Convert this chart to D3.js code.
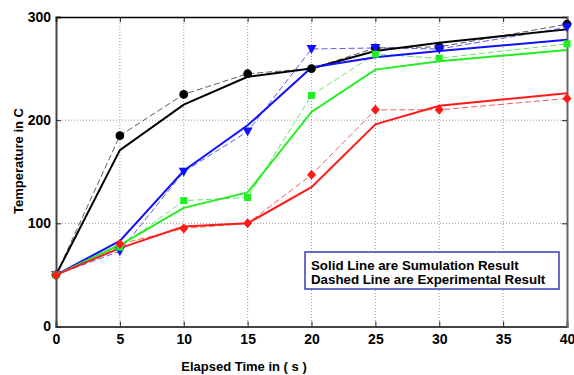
<!DOCTYPE html>
<html><head><meta charset="utf-8">
<script src="https://cdn.jsdelivr.net/npm/d3@7"></script>
<style>body{margin:0;background:#fff}svg{display:block}</style>
</head><body>
<svg id="c" width="574" height="375"></svg>
<script>
const time = [0,5,10,15,20,25,30,40];
const simBlack = [50,171,215,242,250,267,275,288];
const expBlack = [50,185,225,245,250,270,271,293];
const simBlue  = [50,83,151,195,251,261,267,278];
const expBlue  = [50,73,150,189,269,270,269,290];
const simGreen = [50,79,115,130,208,249,257,268];
const expGreen = [50,77,122,125,224,264,260,274];
const simRed   = [50,76,97,100,135,196,214,226];
const expRed   = [50,80,95,100,147,210,210,221];
const xTicks = [0,5,10,15,20,25,30,35,40];
const yTicks = [0,100,200,300];
const legendLines = ["Solid Line are Sumulation Result","Dashed Line are Experimental Result"];

const series = [
  {sim: simBlack, exp: expBlack, color:"#000000", dcolor:"#333333", marker:"circle"},
  {sim: simBlue,  exp: expBlue,  color:"#1010ff", dcolor:"#3030ee", marker:"tri"},
  {sim: simGreen, exp: expGreen, color:"#22ee22", dcolor:"#44dd44", marker:"square"},
  {sim: simRed,   exp: expRed,   color:"#ff1a1a", dcolor:"#ee3333", marker:"diamond"}
];

const svg = d3.select("#c");
const L=56, R=567, T=17, B=326.5;
const x = d3.scaleLinear().domain([0,40]).range([L,R]);
const y = d3.scaleLinear().domain([0,300]).range([B,T]);
const font = "Liberation Sans, Arial, sans-serif";

// grid
const g = svg.append("g");
g.selectAll(".gx").data(xTicks.filter(d=>d>0&&d<40)).enter().append("line")
  .attr("x1",d=>x(d)).attr("x2",d=>x(d)).attr("y1",T).attr("y2",B)
  .attr("stroke","#9a9a9a").attr("stroke-width",1).attr("stroke-dasharray","1,2");
g.selectAll(".gy").data(yTicks.filter(d=>d>0&&d<300)).enter().append("line")
  .attr("x1",L).attr("x2",R).attr("y1",d=>y(d)).attr("y2",d=>y(d))
  .attr("stroke","#9a9a9a").attr("stroke-width",1).attr("stroke-dasharray","1,2");

// axes
const xAxis = d3.axisBottom(x).tickValues(xTicks).tickSize(-5).tickPadding(8).tickFormat(d3.format("d"));
const yAxis = d3.axisLeft(y).tickValues(yTicks).tickSize(-5).tickPadding(5).tickFormat(d3.format("d"));
const xa = svg.append("g").attr("transform",`translate(0,${B})`).call(xAxis);
const ya = svg.append("g").attr("transform",`translate(${L},0)`).call(yAxis);
const xt = svg.append("g").attr("transform",`translate(0,${T})`).call(d3.axisTop(x).tickValues(xTicks).tickSize(-5).tickFormat(""));
const yr = svg.append("g").attr("transform",`translate(${R},0)`).call(d3.axisRight(y).tickValues(yTicks).tickSize(-5).tickFormat(""));
[xa,ya,xt,yr].forEach(a=>{
  a.selectAll("text").attr("font-family",font).attr("font-weight","bold").attr("font-size","14px").attr("fill","#000");
  a.selectAll(".tick line").attr("stroke","#222");
});
xa.select(".domain").attr("stroke","#444").attr("stroke-width",2);
ya.select(".domain").attr("stroke","#444").attr("stroke-width",2);
xt.select(".domain").attr("stroke","#000").attr("stroke-width",1.5);
yr.select(".domain").attr("stroke","#666").attr("stroke-width",2);

// lines
const line = d3.line().x((d,i)=>x(time[i])).y(d=>y(d));
const plot = svg.append("g");
series.forEach(s=>{
  plot.append("path").attr("d",line(s.exp)).attr("fill","none")
    .attr("stroke",s.dcolor).attr("stroke-width",1).attr("stroke-dasharray","6,3").attr("opacity",0.8);
});
series.forEach(s=>{
  plot.append("path").attr("d",line(s.sim)).attr("fill","none")
    .attr("stroke",s.color).attr("stroke-width",2);
});
// markers
const sym = {
  circle: d3.symbol().type(d3.symbolCircle).size(60),
  square: d3.symbol().type(d3.symbolSquare).size(50)
};
series.forEach(s=>{
  s.exp.forEach((v,i)=>{
    const px=x(time[i]), py=y(v);
    if(s.marker==="tri"){
      plot.append("path").attr("d",`M${px-5},${py-4}L${px+5},${py-4}L${px},${py+5}Z`).attr("fill",s.color);
    } else if(s.marker==="diamond"){
      plot.append("path").attr("d",`M${px},${py-5}L${px+4.5},${py}L${px},${py+5}L${px-4.5},${py}Z`).attr("fill",s.color);
    } else {
      plot.append("path").attr("d",sym[s.marker]()).attr("transform",`translate(${px},${py})`).attr("fill",s.color);
    }
  });
});

// axis titles
svg.append("text").attr("x",244).attr("y",371).attr("text-anchor","middle")
  .attr("font-family",font).attr("font-weight","bold").attr("font-size","13px").text("Elapsed Time in ( s )");
svg.append("text").attr("transform","translate(23,161) rotate(-90)").attr("text-anchor","middle")
  .attr("font-family",font).attr("font-weight","bold").attr("font-size","13px").text("Temperature in C");

// legend box
svg.append("rect").attr("x",305).attr("y",252).attr("width",254).attr("height",37)
  .attr("fill","#fff").attr("stroke","#3a3ab8").attr("stroke-width",1.5);
svg.selectAll(".lg").data(legendLines).enter().append("text")
  .attr("x",311).attr("y",(d,i)=>270+i*13.5).attr("font-family",font).attr("font-weight","bold")
  .attr("font-size","13.3px").attr("fill","#000").text(d=>d);
</script>
</body></html>
